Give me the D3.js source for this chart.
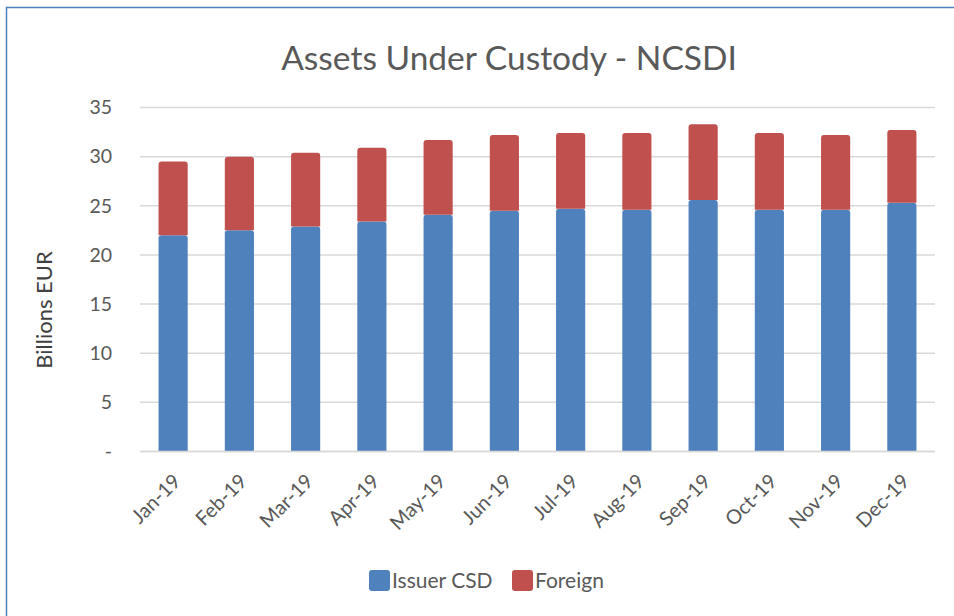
<!DOCTYPE html>
<html><head><meta charset="utf-8">
<script src="https://cdn.jsdelivr.net/npm/d3@7"></script>
<style>html,body{margin:0;padding:0;background:#fff;}svg{display:block;}</style>
</head><body>
<script>
const categories = ["Jan-19","Feb-19","Mar-19","Apr-19","May-19","Jun-19","Jul-19","Aug-19","Sep-19","Oct-19","Nov-19","Dec-19"];
const issuerCSD = [22.0, 22.5, 22.9, 23.4, 24.1, 24.5, 24.7, 24.6, 25.6, 24.6, 24.6, 25.3];
const foreign   = [7.5, 7.5, 7.5, 7.5, 7.6, 7.7, 7.7, 7.8, 7.7, 7.8, 7.6, 7.4];
const seriesNames = ["Issuer CSD", "Foreign"];
const seriesColors = ["#4F81BD", "#C0504D"];
const yTicks = [0, 5, 10, 15, 20, 25, 30, 35];

const W = 954, H = 616;
const font = "Lato, 'Open Sans', sans-serif";
const svg = d3.select("body").append("svg").attr("width", W).attr("height", H);

// chart border
svg.append("rect").attr("x", 6.5).attr("y", 7.5).attr("width", W + 20).attr("height", H + 20)
  .attr("fill", "#fff").attr("stroke", "#4F81BD").attr("stroke-width", 1.5);

const pLeft = 140, pRight = 935, pTop = 107.5, pBottom = 451.5;
const x = d3.scaleBand().domain(categories).range([pLeft, pRight]).paddingInner(0.56).paddingOuter(0.28);
const y = d3.scaleLinear().domain([0, 35]).range([pBottom, pTop]);

// gridlines
svg.append("g").selectAll("line").data(yTicks).join("line")
  .attr("x1", pLeft).attr("x2", pRight)
  .attr("y1", d => y(d)).attr("y2", d => y(d))
  .attr("stroke", "#D9D9D9").attr("stroke-width", 1.5);

// y axis labels
const yAxis = d3.axisLeft(y).tickValues(yTicks).tickSize(0).tickPadding(0)
  .tickFormat(d => d === 0 ? "-" : d);
const yg = svg.append("g").attr("transform", `translate(${pLeft - 28},0)`).call(yAxis);
yg.select(".domain").remove();
yg.selectAll("text").attr("font-family", font).attr("font-size", 19.5).attr("fill", "#595959");

// stacked data
const rows = categories.map((c, i) => ({cat: c, "Issuer CSD": issuerCSD[i], "Foreign": foreign[i]}));
const stack = d3.stack().keys(seriesNames)(rows);

const rr = 3;
function roundedPath(x0, y0, w, h) {
  return `M${x0},${y0 + h}V${y0 + rr}Q${x0},${y0} ${x0 + rr},${y0}H${x0 + w - rr}Q${x0 + w},${y0} ${x0 + w},${y0 + rr}V${y0 + h}Z`;
}
stack.forEach((s, si) => {
  svg.append("g").selectAll("path").data(s).join("path")
    .attr("d", d => roundedPath(x(d.data.cat), y(d[1]), x.bandwidth(), y(d[0]) - y(d[1])))
    .attr("fill", seriesColors[si]);
});

// x axis line
svg.append("line").attr("x1", pLeft).attr("x2", pRight).attr("y1", pBottom).attr("y2", pBottom)
  .attr("stroke", "#D9D9D9").attr("stroke-width", 1.5);

// x labels
const xAxis = d3.axisBottom(x).tickSize(0).tickPadding(0);
const xg = svg.append("g").attr("transform", `translate(0,${pBottom})`).call(xAxis);
xg.select(".domain").remove();
xg.selectAll("text")
  .attr("font-family", font).attr("font-size", 20).attr("fill", "#595959")
  .attr("text-anchor", "end").attr("dy", "0.35em")
  .attr("transform", "translate(4,26) rotate(-45)");

// title
svg.append("text").attr("x", 509).attr("y", 70).attr("text-anchor", "middle")
  .attr("font-family", font).attr("font-size", 33.5).attr("fill", "#595959")
  .text("Assets Under Custody - NCSDI");

// y title
svg.append("text").attr("transform", "translate(52,310) rotate(-90)").attr("text-anchor", "middle")
  .attr("font-family", font).attr("font-size", 22).attr("fill", "#404040")
  .text("Billions EUR");

// legend
const legendX = [369, 512];
const lg = svg.append("g").selectAll("g").data(seriesNames).join("g")
  .attr("transform", (d, i) => `translate(${legendX[i]},570)`);
lg.append("rect").attr("width", 21).attr("height", 21).attr("rx", 3)
  .attr("fill", (d, i) => seriesColors[i]);
lg.append("text").attr("x", 23).attr("y", 18).attr("font-family", font).attr("font-size", 21)
  .attr("fill", "#595959").text(d => d);
</script>
</body></html>
